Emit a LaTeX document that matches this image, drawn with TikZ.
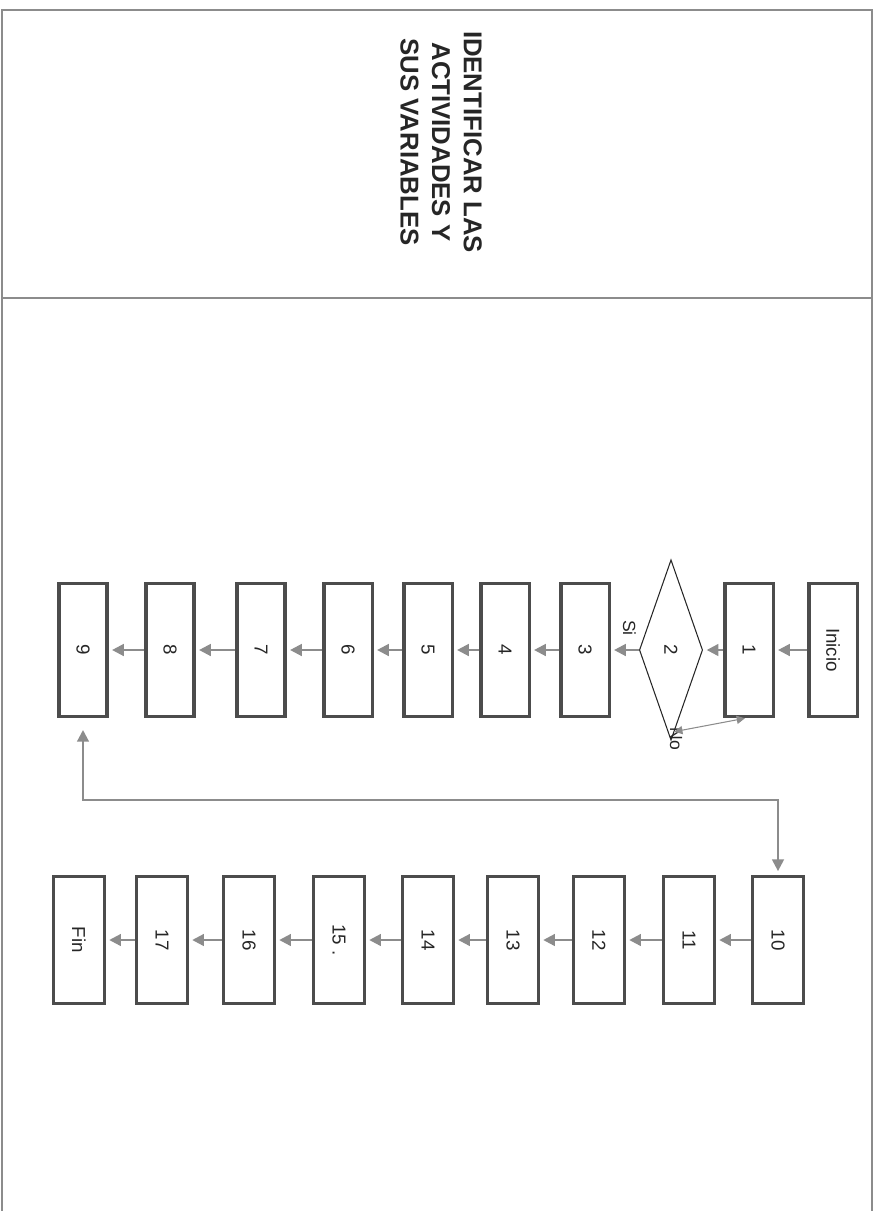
\documentclass[tikz,border=0pt]{standalone}
\usepackage{fontspec}
\setmainfont{Liberation Sans}
\usetikzlibrary{shapes.geometric, arrows.meta, calc}

\begin{document}
\begin{tikzpicture}[x=0.03cm, y=-0.03cm,
    caja/.style={rectangle, draw=black!70, line width=2.6pt, fill=white, rotate=-90, minimum width=114pt, minimum height=41pt, inner sep=0pt, text=black!85, font=\fontsize{16}{16}\selectfont},
    cajab/.style={caja, minimum width=109pt, minimum height=43pt},
    decision/.style={diamond, draw=black!85, line width=0.9pt, rotate=-90, minimum width=154pt, minimum height=54pt, inner sep=0pt, text=black!85, font=\fontsize{16}{16}\selectfont},
    etiqueta/.style={rotate=-90, inner sep=0pt, text=black!85, font=\fontsize{15}{15}\selectfont},
    flecha/.style={draw=black!45, line width=1.9pt, shorten >=3pt, -{Triangle[length=10pt, width=10pt]}},
    flechafina/.style={draw=black!45, line width=0.9pt, {Triangle[length=7pt, width=7pt]}-{Triangle[length=7pt, width=7pt]}},
    marco/.style={draw=black!45, line width=1.5pt}]

    \useasboundingbox (0,0) rectangle (877,1211);

    % marco de la hoja
    \draw[marco] (2,1211) -- (2,10) -- (872,10) -- (872,1211);
    \draw[marco] (2,298) -- (872,298);

    \node [rotate=-90, align=center, text=black!85, font=\fontsize{22}{27}\selectfont\bfseries] (titulo) at (441,142) {
        IDENTIFICAR LAS \\
        ACTIVIDADES Y \\
        SUS VARIABLES
    };

    % primera fila
    \node [caja] (inicio) at (833,650) {Inicio};
    \node [caja] (act1) at (749,650) {1};
    \node [decision] (dec2) at (671,650) {2};
    \node [caja] (act3) at (585,650) {3};
    \node [caja] (act4) at (505,650) {4};
    \node [caja] (act5) at (428,650) {5};
    \node [caja] (act6) at (348,650) {6};
    \node [caja] (act7) at (261,650) {7};
    \node [caja] (act8) at (170,650) {8};
    \node [caja] (act9) at (83,650) {9};

    % segunda fila
    \node [cajab] (act10) at (778,940) {10};
    \node [cajab] (act11) at (689,940) {11};
    \node [cajab] (act12) at (599,940) {12};
    \node [cajab] (act13) at (513,940) {13};
    \node [cajab] (act14) at (428,940) {14};
    \node [cajab] (act15) at (339,940) {15 .};
    \node [cajab] (act16) at (249,940) {16};
    \node [cajab] (act17) at (162,940) {17};
    \node [cajab] (fin) at (79,940) {Fin};

    \node [etiqueta] (si) at ($(dec2.south)!0.4!(act3.north)+(2,-22)$) {Si};
    \node [etiqueta] (no) at ($(dec2.east)+(5,-2)$) {No};

    \draw[flecha] (inicio.south) -- (act1.north);
    \draw[flecha] (act1.south) -- (dec2.north);
    \draw[flecha] (dec2.south) -- (act3.north);
    \draw[flechafina] ($(dec2.east)!0.1!(dec2.north)$) -- ($(act1.south east)!0.42!(act1.north east)$);
    \draw[flecha] (act3.south) -- (act4.north);
    \draw[flecha] (act4.south) -- (act5.north);
    \draw[flecha] (act5.south) -- (act6.north);
    \draw[flecha] (act6.south) -- (act7.north);
    \draw[flecha] (act7.south) -- (act8.north);
    \draw[flecha] (act8.south) -- (act9.north);

    \draw[flecha, shorten <=10pt, {Triangle[length=10pt, width=10pt]}-{Triangle[length=10pt, width=10pt]}] (act9.east) -- ++(0,82) -| (act10.west);

    \draw[flecha] (act10.south) -- (act11.north);
    \draw[flecha] (act11.south) -- (act12.north);
    \draw[flecha] (act12.south) -- (act13.north);
    \draw[flecha] (act13.south) -- (act14.north);
    \draw[flecha] (act14.south) -- (act15.north);
    \draw[flecha] (act15.south) -- (act16.north);
    \draw[flecha] (act16.south) -- (act17.north);
    \draw[flecha] (act17.south) -- (fin.north);
\end{tikzpicture}
\end{document}
